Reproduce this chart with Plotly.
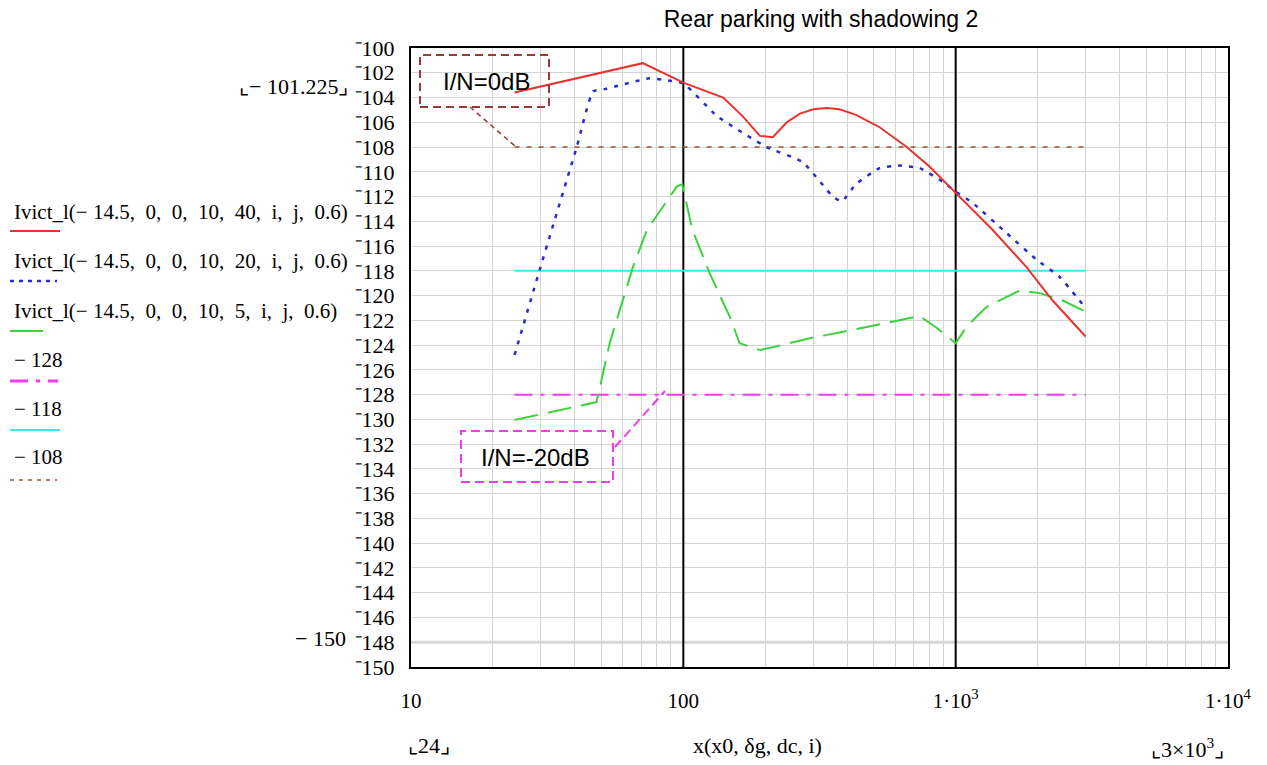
import plotly.graph_objects as go

# ---- data -------------------------------------------------------------
title_text = "Rear parking with shadowing 2"

red_x = [24, 71, 100, 118, 140, 165, 191, 213, 240, 268, 300, 336, 375, 430, 526, 661, 803,
         1000, 1368, 1820, 2270, 3000]
red_y = [-103.6, -101.225, -102.8, -103.4, -104.0, -105.5, -107.1, -107.2, -106.0, -105.3,
         -104.95, -104.85, -104.95, -105.4, -106.4, -108.0, -109.6, -111.7, -114.7, -117.7,
         -120.4, -123.3]

blue_x = [24, 29.7, 40.6, 46.6, 52, 75, 86, 100, 133, 202, 274, 354, 382, 430, 526, 622, 738,
          896, 1000, 1153, 1538, 1982, 2410, 3000]
blue_y = [-124.8, -117.9, -108.0, -103.5, -103.3, -102.45, -102.6, -102.85, -105.5, -108.0,
          -109.2, -112.0, -112.4, -111.0, -109.7, -109.5, -109.7, -110.8, -111.6, -112.5,
          -114.95, -117.1, -118.5, -121.0]

green_x = [24, 48, 53.7, 65.3, 73.5, 94.6, 99, 108, 125, 148, 161, 191, 220, 291, 410, 622,
           738, 851, 1000, 1097, 1300, 1718, 2033, 2470, 3000]
green_y = [-130.05, -128.6, -123.8, -117.7, -114.7, -111.2, -111.0, -114.7, -118.2, -121.7,
           -123.85, -124.4, -124.1, -123.45, -122.8, -122.0, -121.65, -122.6, -123.85, -122.5,
           -120.9, -119.6, -119.8, -120.4, -121.3]

level_x = [24, 3000]
levels = [-128, -118, -108]

SP = "\u2002"  # wide gap after commas, as in the worksheet expressions
legend_labels = [
    f"Ivict_l(− 14.5,{SP}0,{SP}0,{SP}10,{SP}40,{SP}i,{SP}j,{SP}0.6)",
    f"Ivict_l(− 14.5,{SP}0,{SP}0,{SP}10,{SP}20,{SP}i,{SP}j,{SP}0.6)",
    f"Ivict_l(− 14.5,{SP}0,{SP}0,{SP}10,{SP}5,{SP}i,{SP}j,{SP}0.6)",
    "− 128",
    "− 118",
    "− 108",
]

y_ticks = list(range(-150, -98, 2))
x_decades = [10, 100, 1000, 10000]
x_decade_text = ["10", "100", "1·10<sup>3</sup>", "1·10<sup>4</sup>"]
x_markers = [100, 1000]

# ---- styling ----------------------------------------------------------
RED = "#e8322c"
BLUE = "#2a2ad0"
GREEN = "#3cd23c"
MAGENTA = "#ee3cee"
CYAN = "#3fe6ea"
BROWN = "#a0522d"
SERIF = "Liberation Serif"
SANS = "Liberation Sans"

W, H = 1267, 765
L, R, T, B = 411, 1228, 48, 667


def px(x):
    return (x - L) / (R - L)


def py(y):
    return (B - y) / (B - T)


fig = go.Figure()

# x markers (heavy vertical lines)
for xm in x_markers:
    fig.add_trace(go.Scatter(x=[xm, xm], y=[-150, -100], mode="lines",
                             line=dict(color="black", width=2), hoverinfo="skip"))

level_styles = [
    dict(color=MAGENTA, width=2, dash="18px,8px,4px,8px"),
    dict(color=CYAN, width=2),
    dict(color=BROWN, width=1.5, dash="5px,7px"),
]
for lv, st in zip(levels, level_styles):
    fig.add_trace(go.Scatter(x=level_x, y=[lv, lv], mode="lines", line=st, hoverinfo="skip"))

fig.add_trace(go.Scatter(x=green_x, y=green_y, mode="lines",
                         line=dict(color=GREEN, width=2, dash="24px,10px")))
fig.add_trace(go.Scatter(x=blue_x, y=blue_y, mode="lines",
                         line=dict(color=BLUE, width=2.5, dash="4px,7px", shape="spline",
                                   smoothing=0.4)))
fig.add_trace(go.Scatter(x=red_x, y=red_y, mode="lines",
                         line=dict(color=RED, width=2)))

# grid tick positions: every integer multiple inside each decade
grid_vals = []
for d in [10, 100, 1000]:
    for k in range(1, 10):
        grid_vals.append(d * k)
grid_vals.append(10000)
grid_text = [x_decade_text[x_decades.index(v)] if v in x_decades else "" for v in grid_vals]

shapes = []
annotations = []


def label(text, x, y, size, family=SERIF, xanchor="center"):
    annotations.append(dict(text=text, xref="paper", yref="paper", x=px(x), y=py(y),
                            xanchor=xanchor, yanchor="middle", showarrow=False,
                            font=dict(family=family, size=size, color="black")))


# "I/N" call-out boxes with connectors
shapes.append(dict(type="rect", xref="paper", yref="paper",
                   x0=px(420), x1=px(549), y0=py(107), y1=py(55),
                   line=dict(color="#9b3a3a", width=2, dash="8px,5px")))
shapes.append(dict(type="line", xref="paper", yref="paper",
                   x0=px(470), y0=py(107), x1=px(515), y1=py(146),
                   line=dict(color="#9b3a3a", width=1.5, dash="5px,4px")))
label("I/N=0dB", 486, 81, 24, SANS)

shapes.append(dict(type="rect", xref="paper", yref="paper",
                   x0=px(461), x1=px(613), y0=py(482), y1=py(431),
                   line=dict(color=MAGENTA, width=2, dash="9px,5px")))
shapes.append(dict(type="line", xref="paper", yref="paper",
                   x0=px(615), y0=py(447), x1=px(665), y1=py(391),
                   line=dict(color=MAGENTA, width=2, dash="9px,5px")))
label("I/N=-20dB", 535, 457, 24, SANS)

# faint y-marker line
shapes.append(dict(type="line", xref="paper", yref="y", x0=0, x1=1, y0=-148, y1=-148,
                   line=dict(color="#d8d8d8", width=3), layer="below"))

# legend drawn as text over sample lines
legend_text_y = [212, 261, 311, 360, 409, 457]
legend_line_y = [231, 281, 331, 381, 430, 480]
legend_line_len = [50, 47, 33, 48, 50, 47]
legend_line_style = [
    dict(color=RED, width=2),
    dict(color=BLUE, width=2.5, dash="4px,5px"),
    dict(color=GREEN, width=2),
    dict(color=MAGENTA, width=3, dash="18px,8px,4px,8px"),
    dict(color=CYAN, width=2),
    dict(color=BROWN, width=1.5, dash="4px,5px"),
]
for lab, ty, ly, ln, st in zip(legend_labels, legend_text_y, legend_line_y, legend_line_len, legend_line_style):
    label(lab, 12, ty, 21, xanchor="left")
    shapes.append(dict(type="line", xref="paper", yref="paper",
                       x0=px(10), x1=px(10 + ln), y0=py(ly), y1=py(ly), line=st))

# axis limit markers and axis expression
label("⌞− 101.225⌟", 350, 86, 22, xanchor="right")
label("− 150", 348, 638, 22, xanchor="right")
label("⌞24⌟", 406, 745, 22, xanchor="left")
label("x(x0, δg, dc, i)", 757, 745, 22)
label("⌞3×10<sup>3</sup>⌟", 1226, 748, 22, xanchor="right")

fig.update_layout(
    width=W, height=H,
    margin=dict(l=L, r=W - R, t=T, b=H - B),
    paper_bgcolor="white", plot_bgcolor="white",
    showlegend=False,
    title=dict(text=title_text, x=821 / W, xanchor="center", y=1 - 19 / H, yanchor="middle",
               font=dict(family=SANS, size=23, color="black")),
    xaxis=dict(type="log", range=[1, 4], tickmode="array", tickvals=grid_vals, ticktext=grid_text,
               showgrid=True, gridcolor="#d4d4d4", gridwidth=1, ticks="", zeroline=False,
               showline=True, linecolor="black", linewidth=2, mirror=True,
               tickfont=dict(family=SERIF, size=21, color="black"), ticklabelstandoff=14),
    yaxis=dict(range=[-150, -100], tickmode="array", tickvals=y_ticks,
               ticktext=["⁻" + str(abs(v)) for v in y_ticks],
               showgrid=True, gridcolor="#d4d4d4", gridwidth=1, ticks="", zeroline=False,
               showline=True, linecolor="black", linewidth=2, mirror=True,
               tickfont=dict(family=SERIF, size=22, color="black"), ticklabelstandoff=10),
    shapes=shapes,
    annotations=annotations,
)

fig.write_html("out.html")
